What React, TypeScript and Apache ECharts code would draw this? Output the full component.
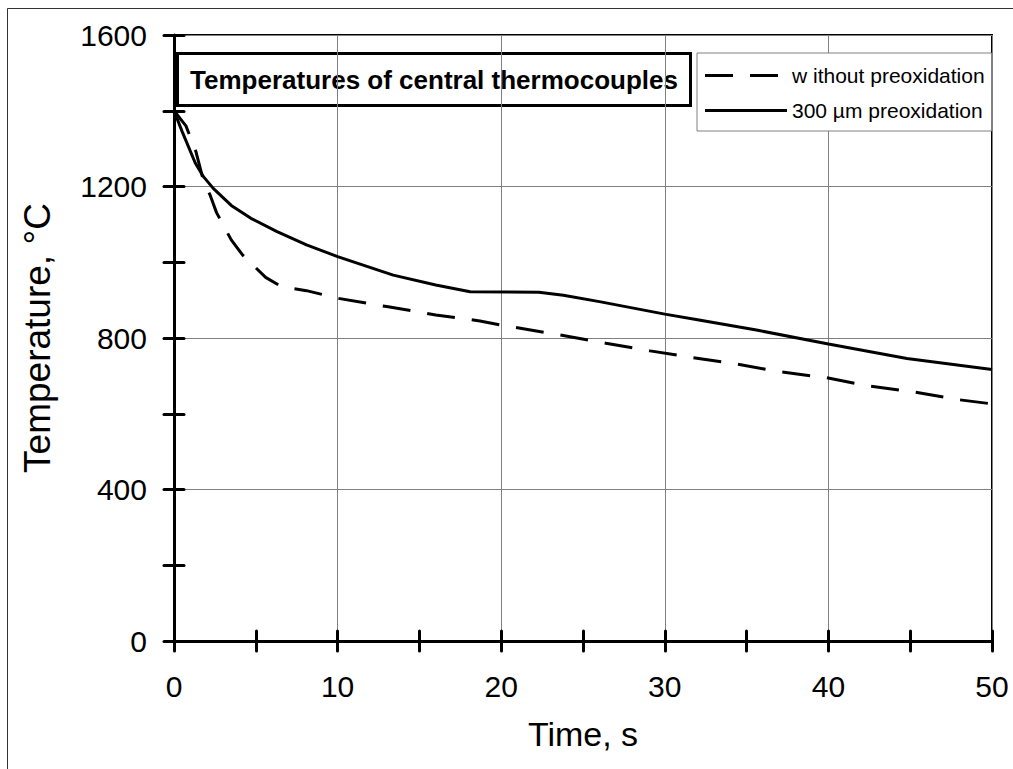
import React, { useEffect, useRef } from "react";
import * as echarts from "echarts";

// Time (s) and temperature (°C)
const timeWithout = [0, 0.73, 1.34, 1.79, 2.2, 2.6, 3.5, 4.2, 5.6, 6.6, 8.1, 10, 13, 16, 18.7, 20, 23.6, 26.4, 29.1, 31.6, 34.4, 37, 39.9, 42.5, 45.2, 47.8, 50];
const tempWithout = [1400, 1360, 1292, 1217, 1178, 1131, 1059, 1019, 960, 935, 925, 905, 883, 861, 845, 834, 808, 786, 766, 749, 731, 711, 695, 673, 658, 638, 626];

const time300 = [0, 0.5, 1.3, 1.8, 2.4, 3.5, 4.7, 6.3, 8.1, 10, 13.4, 16, 18.1, 22.3, 23.8, 26, 30, 32, 35.6, 40, 44.8, 50];
const temp300 = [1400, 1345, 1262, 1226, 1195, 1150, 1116, 1081, 1046, 1015, 966, 940, 922, 921, 913, 896, 863, 848, 821, 784, 746, 717];

const seriesNames = ["w ithout preoxidation", "300 µm preoxidation"];
const chartTitle = "Temperatures of central thermocouples";
const xName = "Time, s";
const yName = "Temperature, °C";

const FONT = "'Liberation Sans', Arial, sans-serif";

const ICON_DASHED = "path://M0,0H28V3H0Z M45,0H73V3H45Z M81.9,1.4H82V1.6H81.9Z";
const ICON_SOLID = "path://M0,0H82V3H0Z";

export default function App() {
  const ref = useRef<HTMLDivElement>(null);

  useEffect(() => {
    if (!ref.current) return;
    const chart = echarts.init(ref.current, undefined, { renderer: "svg" });

    const pairs = (t: number[], v: number[]) => t.map((x, i) => [x, v[i]]);

    const tickStyle = { color: "#000", width: 3, cap: "round" as const };

    const baseX = { type: "value" as const, min: 0, max: 50, position: "bottom" as const };
    const baseY = { type: "value" as const, min: 0, max: 1600, position: "left" as const };

    chart.setOption({
      animation: false,
      backgroundColor: "#fff",
      grid: {
        left: 174,
        top: 35,
        right: 21,
        bottom: 128,
        show: true,
        borderColor: "#000",
        borderWidth: 2,
        backgroundColor: "transparent",
      },
      xAxis: [
        {
          ...baseX,
          interval: 10,
          axisLine: { show: true, onZero: false, lineStyle: { color: "#000", width: 3 } },
          axisTick: { show: false },
          axisLabel: { fontSize: 30, color: "#000", margin: 30, fontFamily: FONT },
          splitLine: { show: true, lineStyle: { color: "#808080", width: 1 } },
          name: xName,
          nameLocation: "middle",
          nameGap: 76,
          nameTextStyle: { fontSize: 34, color: "#000", fontFamily: FONT },
        },
        {
          ...baseX,
          interval: 5,
          axisLine: { show: false, onZero: false },
          axisTick: { show: true, inside: false, length: 10, lineStyle: tickStyle },
          axisLabel: { show: false },
          splitLine: { show: false },
        },
        {
          ...baseX,
          interval: 5,
          axisLine: { show: false, onZero: false },
          axisTick: { show: true, inside: true, length: 10, lineStyle: tickStyle },
          axisLabel: { show: false },
          splitLine: { show: false },
        },
      ],
      yAxis: [
        {
          ...baseY,
          interval: 400,
          axisLine: { show: true, onZero: false, lineStyle: { color: "#000", width: 3 } },
          axisTick: { show: false },
          axisLabel: {
            fontSize: 30,
            color: "#000",
            margin: 27,
            fontFamily: FONT,
            formatter: (v: number) => String(v),
          },
          splitLine: { show: true, lineStyle: { color: "#808080", width: 1 } },
          name: yName,
          nameLocation: "middle",
          nameGap: 118,
          nameTextStyle: { fontSize: 37, color: "#000", fontFamily: FONT },
        },
        {
          ...baseY,
          interval: 200,
          axisLine: { show: false, onZero: false },
          axisTick: { show: true, inside: false, length: 10, lineStyle: tickStyle },
          axisLabel: { show: false },
          splitLine: { show: false },
        },
        {
          ...baseY,
          interval: 200,
          axisLine: { show: false, onZero: false },
          axisTick: { show: true, inside: true, length: 10, lineStyle: tickStyle },
          axisLabel: { show: false },
          splitLine: { show: false },
        },
      ],
      legend: {
        orient: "vertical",
        left: 697,
        top: 53,
        padding: [12, 7, 10, 8],
        itemGap: 14,
        itemWidth: 82,
        itemHeight: 3,
        backgroundColor: "#fff",
        borderColor: "#808080",
        borderWidth: 1,
        borderRadius: 0,
        textStyle: { fontSize: 21, color: "#000", fontFamily: FONT },
        data: [
          { name: seriesNames[0], icon: ICON_DASHED, itemStyle: { color: "#000" } },
          { name: seriesNames[1], icon: ICON_SOLID, itemStyle: { color: "#000" } },
        ],
        z: 10,
      },
      series: [
        {
          name: seriesNames[0],
          type: "line",
          xAxisIndex: 0,
          yAxisIndex: 0,
          symbol: "none",
          data: pairs(timeWithout, tempWithout),
          lineStyle: { color: "#000", width: 3, type: [28, 17] },
          itemStyle: { color: "#000" },
        },
        {
          name: seriesNames[1],
          type: "line",
          xAxisIndex: 0,
          yAxisIndex: 0,
          symbol: "none",
          data: pairs(time300, temp300),
          lineStyle: { color: "#000", width: 3 },
          itemStyle: { color: "#000" },
        },
      ],
      graphic: [
        {
          type: "rect",
          silent: true,
          z: -10,
          shape: { x: 7.5, y: 8.5, width: 1020, height: 800 },
          style: { fill: "none", stroke: "#333", lineWidth: 1 },
        },
        {
          type: "group",
          z: 100,
          children: [
            {
              type: "rect",
              shape: { x: 177.5, y: 53.5, width: 513, height: 52 },
              style: { fill: "#fff", stroke: "#000", lineWidth: 3 },
            },
            {
              type: "text",
              x: 434,
              y: 80,
              style: {
                text: chartTitle,
                fontSize: 26,
                fontWeight: "bold",
                fontFamily: FONT,
                fill: "#000",
                align: "center",
                verticalAlign: "middle",
              },
            },
          ],
        },
      ],
    });

    return () => chart.dispose();
  }, []);

  return (
    <div
      ref={ref}
      style={{ position: "absolute", left: 0, top: 0, width: 1013, height: 769 }}
    />
  );
}
